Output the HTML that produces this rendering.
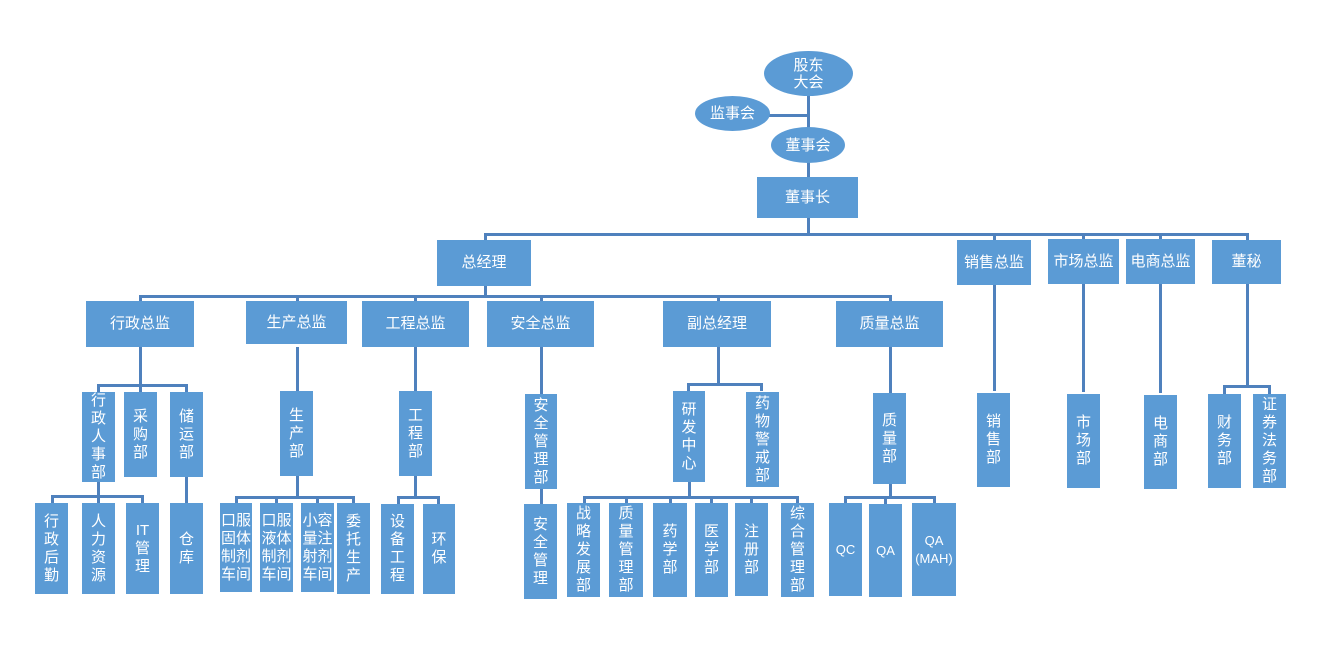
<!DOCTYPE html>
<html><head><meta charset="utf-8"><style>
body{margin:0;width:1327px;height:655px;background:#fff;position:relative;overflow:hidden;font-family:"Liberation Sans","Noto Sans CJK SC",sans-serif;}
.b{position:absolute;background:#5b9bd5;color:#fff;display:flex;align-items:center;justify-content:center;text-align:center;font-size:15px;line-height:18px;}
.e{position:absolute;background:#5b9bd5;color:#fff;border-radius:50%;display:flex;align-items:center;justify-content:center;text-align:center;font-size:15px;line-height:17px;}
.h{position:absolute;height:3px;background:#4f81bd;}
.v{position:absolute;width:3px;background:#4f81bd;}
</style></head><body>
<div class="v" style="left:807px;top:95px;height:82px"></div>
<div class="h" style="left:769px;top:114px;width:40px"></div>
<div class="h" style="left:484px;top:233px;width:765px"></div>
<div class="v" style="left:807px;top:218px;height:16px"></div>
<div class="v" style="left:484px;top:233px;height:8px"></div>
<div class="v" style="left:993px;top:233px;height:158px"></div>
<div class="v" style="left:1082px;top:233px;height:159px"></div>
<div class="v" style="left:1159px;top:233px;height:160px"></div>
<div class="v" style="left:1246px;top:233px;height:153px"></div>
<div class="h" style="left:1223px;top:385px;width:48px"></div>
<div class="v" style="left:1223px;top:385px;height:9px"></div>
<div class="v" style="left:1268px;top:385px;height:9px"></div>
<div class="v" style="left:484px;top:286px;height:11px"></div>
<div class="h" style="left:139px;top:295px;width:753px"></div>
<div class="v" style="left:139px;top:295px;height:8px"></div>
<div class="v" style="left:296px;top:295px;height:8px"></div>
<div class="v" style="left:414px;top:295px;height:8px"></div>
<div class="v" style="left:540px;top:295px;height:8px"></div>
<div class="v" style="left:717px;top:295px;height:8px"></div>
<div class="v" style="left:889px;top:295px;height:8px"></div>
<div class="v" style="left:139px;top:347px;height:38px"></div>
<div class="h" style="left:97px;top:384px;width:91px"></div>
<div class="v" style="left:97px;top:384px;height:8px"></div>
<div class="v" style="left:139px;top:384px;height:8px"></div>
<div class="v" style="left:185px;top:384px;height:8px"></div>
<div class="v" style="left:97px;top:482px;height:21px"></div>
<div class="h" style="left:51px;top:495px;width:93px"></div>
<div class="v" style="left:51px;top:495px;height:8px"></div>
<div class="v" style="left:141px;top:495px;height:8px"></div>
<div class="v" style="left:185px;top:477px;height:26px"></div>
<div class="v" style="left:296px;top:347px;height:150px"></div>
<div class="h" style="left:235px;top:496px;width:120px"></div>
<div class="v" style="left:235px;top:496px;height:8px"></div>
<div class="v" style="left:275px;top:496px;height:8px"></div>
<div class="v" style="left:316px;top:496px;height:8px"></div>
<div class="v" style="left:352px;top:496px;height:8px"></div>
<div class="v" style="left:414px;top:347px;height:150px"></div>
<div class="h" style="left:397px;top:496px;width:43px"></div>
<div class="v" style="left:397px;top:496px;height:8px"></div>
<div class="v" style="left:437px;top:496px;height:8px"></div>
<div class="v" style="left:540px;top:347px;height:157px"></div>
<div class="v" style="left:717px;top:347px;height:38px"></div>
<div class="h" style="left:687px;top:383px;width:76px"></div>
<div class="v" style="left:687px;top:383px;height:8px"></div>
<div class="v" style="left:760px;top:383px;height:8px"></div>
<div class="v" style="left:688px;top:482px;height:16px"></div>
<div class="h" style="left:583px;top:496px;width:216px"></div>
<div class="v" style="left:583px;top:496px;height:8px"></div>
<div class="v" style="left:625px;top:496px;height:8px"></div>
<div class="v" style="left:669px;top:496px;height:8px"></div>
<div class="v" style="left:710px;top:496px;height:8px"></div>
<div class="v" style="left:750px;top:496px;height:8px"></div>
<div class="v" style="left:796px;top:496px;height:8px"></div>
<div class="v" style="left:889px;top:347px;height:150px"></div>
<div class="h" style="left:844px;top:496px;width:92px"></div>
<div class="v" style="left:844px;top:496px;height:8px"></div>
<div class="v" style="left:884px;top:496px;height:8px"></div>
<div class="v" style="left:933px;top:496px;height:8px"></div>

<div class="e" style="left:764px;top:51px;width:89px;height:45px">股东<br>大会</div>
<div class="e" style="left:695px;top:96px;width:75px;height:35px">监事会</div>
<div class="e" style="left:771px;top:127px;width:74px;height:36px">董事会</div>

<div class="b" style="left:757px;top:177px;width:101px;height:41px">董事长</div>
<div class="b" style="left:437px;top:240px;width:94px;height:46px">总经理</div>
<div class="b" style="left:957px;top:240px;width:74px;height:45px">销售总监</div>
<div class="b" style="left:1048px;top:239px;width:71px;height:45px">市场总监</div>
<div class="b" style="left:1126px;top:239px;width:69px;height:45px">电商总监</div>
<div class="b" style="left:1212px;top:240px;width:69px;height:44px">董秘</div>

<div class="b" style="left:86px;top:301px;width:108px;height:46px">行政总监</div>
<div class="b" style="left:246px;top:301px;width:101px;height:43px">生产总监</div>
<div class="b" style="left:362px;top:301px;width:107px;height:46px">工程总监</div>
<div class="b" style="left:487px;top:301px;width:107px;height:46px">安全总监</div>
<div class="b" style="left:663px;top:301px;width:108px;height:46px">副总经理</div>
<div class="b" style="left:836px;top:301px;width:107px;height:46px">质量总监</div>

<div class="b" style="left:82px;top:392px;width:33px;height:90px">行<br>政<br>人<br>事<br>部</div>
<div class="b" style="left:124px;top:392px;width:33px;height:85px">采<br>购<br>部</div>
<div class="b" style="left:170px;top:392px;width:33px;height:85px">储<br>运<br>部</div>
<div class="b" style="left:35px;top:503px;width:33px;height:91px">行<br>政<br>后<br>勤</div>
<div class="b" style="left:82px;top:503px;width:33px;height:91px">人<br>力<br>资<br>源</div>
<div class="b" style="left:126px;top:503px;width:33px;height:91px">IT<br>管<br>理</div>
<div class="b" style="left:170px;top:503px;width:33px;height:91px">仓<br>库</div>

<div class="b" style="left:280px;top:391px;width:33px;height:85px">生<br>产<br>部</div>
<div class="b" style="left:220px;top:503px;width:32px;height:89px">口服<br>固体<br>制剂<br>车间</div>
<div class="b" style="left:260px;top:503px;width:33px;height:89px">口服<br>液体<br>制剂<br>车间</div>
<div class="b" style="left:301px;top:503px;width:33px;height:89px">小容<br>量注<br>射剂<br>车间</div>
<div class="b" style="left:337px;top:503px;width:33px;height:91px">委<br>托<br>生<br>产</div>

<div class="b" style="left:399px;top:391px;width:33px;height:85px">工<br>程<br>部</div>
<div class="b" style="left:381px;top:504px;width:33px;height:90px">设<br>备<br>工<br>程</div>
<div class="b" style="left:423px;top:504px;width:32px;height:90px">环<br>保</div>

<div class="b" style="left:525px;top:394px;width:32px;height:95px">安<br>全<br>管<br>理<br>部</div>
<div class="b" style="left:524px;top:504px;width:33px;height:95px">安<br>全<br>管<br>理</div>

<div class="b" style="left:673px;top:391px;width:32px;height:91px">研<br>发<br>中<br>心</div>
<div class="b" style="left:746px;top:392px;width:33px;height:95px">药<br>物<br>警<br>戒<br>部</div>
<div class="b" style="left:567px;top:503px;width:33px;height:94px">战<br>略<br>发<br>展<br>部</div>
<div class="b" style="left:609px;top:503px;width:34px;height:94px">质<br>量<br>管<br>理<br>部</div>
<div class="b" style="left:653px;top:503px;width:34px;height:94px">药<br>学<br>部</div>
<div class="b" style="left:695px;top:503px;width:33px;height:94px">医<br>学<br>部</div>
<div class="b" style="left:735px;top:503px;width:33px;height:93px">注<br>册<br>部</div>
<div class="b" style="left:781px;top:503px;width:33px;height:94px">综<br>合<br>管<br>理<br>部</div>

<div class="b" style="left:873px;top:393px;width:33px;height:91px">质<br>量<br>部</div>
<div class="b" style="left:829px;top:503px;width:33px;height:93px;font-size:13px">QC</div>
<div class="b" style="left:869px;top:504px;width:33px;height:93px;font-size:13px">QA</div>
<div class="b" style="left:912px;top:503px;width:44px;height:93px;font-size:13px">QA<br>(MAH)</div>

<div class="b" style="left:977px;top:393px;width:33px;height:94px">销<br>售<br>部</div>
<div class="b" style="left:1067px;top:394px;width:33px;height:94px">市<br>场<br>部</div>
<div class="b" style="left:1144px;top:395px;width:33px;height:94px">电<br>商<br>部</div>
<div class="b" style="left:1208px;top:394px;width:33px;height:94px">财<br>务<br>部</div>
<div class="b" style="left:1253px;top:394px;width:33px;height:94px">证<br>券<br>法<br>务<br>部</div>
</body></html>
